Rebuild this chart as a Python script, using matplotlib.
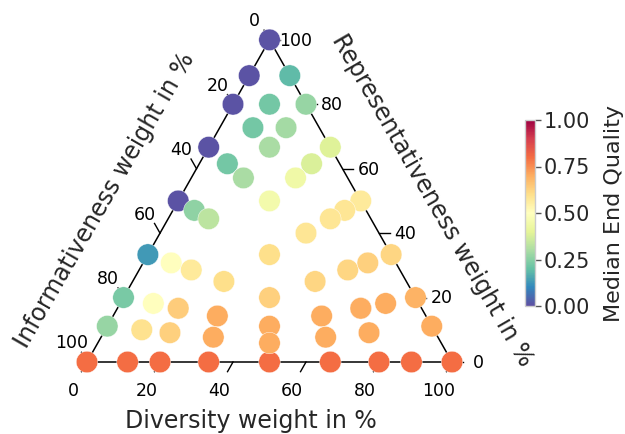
import numpy as np
import matplotlib
matplotlib.use("Agg")
import matplotlib.pyplot as plt
from matplotlib.colors import Normalize
from matplotlib.cm import ScalarMappable

# raw weights (diversity, representativeness, informativeness) and median end quality
w_div = [0, 0, 0, 0, 0, 0, 0, 0, 0,
         1, 1, 1, 1, 2, 4, 8, 1,
         1, 1, 1, 1, 2, 4, 8,
         1, 1, 2, 1, 1, 1, 4, 2, 1, 1, 1, 8, 4, 2, 1, 1, 1, 1, 2, 4, 8,
         1, 1, 2, 1, 2, 4, 4, 8, 1, 2, 4, 4, 8, 4, 8, 8]
w_rep = [1, 8, 4, 2, 1, 1, 1, 1, 0,
         0, 0, 0, 0, 0, 0, 0, 0,
         8, 4, 2, 1, 1, 1, 1,
         8, 8, 8, 4, 8, 4, 8, 4, 2, 8, 4, 8, 4, 2, 1, 4, 2, 1, 1, 2, 4,
         2, 1, 1, 1, 1, 1, 1, 2, 1, 1, 1, 1, 1, 1, 1, 1]
w_inf = [0, 1, 1, 1, 1, 2, 4, 8, 1,
         8, 4, 2, 1, 1, 1, 1, 0,
         0, 0, 0, 0, 0, 0, 0,
         1, 2, 1, 1, 4, 2, 1, 1, 1, 8, 4, 1, 1, 1, 1, 8, 4, 2, 1, 1, 1,
         8, 4, 2, 4, 4, 2, 1, 1, 8, 8, 8, 4, 8, 1, 4, 2]
quality = [0.01, 0.01, 0.01, 0.01, 0.01, 0.13, 0.23, 0.27, 0.80,
           0.80, 0.80, 0.80, 0.80, 0.80, 0.80, 0.80, 0.80,
           0.19, 0.27, 0.39, 0.57, 0.62, 0.69, 0.70,
           0.22, 0.22, 0.29, 0.30, 0.22, 0.30, 0.38, 0.44, 0.45, 0.26, 0.33,
           0.58, 0.58, 0.58, 0.60, 0.50, 0.57, 0.60, 0.62, 0.62, 0.63,
           0.50, 0.58, 0.63, 0.64, 0.70, 0.70, 0.70, 0.70,
           0.59, 0.63, 0.70, 0.70, 0.70, 0.70, 0.70, 0.70]

tick_values = [0, 20, 40, 60, 80, 100]
cbar_ticks = [0.0, 0.25, 0.5, 0.75, 1.0]

S3 = np.sqrt(3) / 2


def proj(d, r):
    # ternary (diversity %, representativeness %) -> cartesian
    return d + r / 2.0, r * S3


fig = plt.figure(figsize=(6.25, 4.34), dpi=100)
ax = fig.add_axes([0, 0, 1, 1])
ax.set_xlim(-87 / 3.65, (625 - 87) / 3.65)
ax.set_ylim(-72 / 3.72, (434 - 72) / 3.72)
ax.axis("off")

# triangle boundary
bx, by = proj(np.array([0, 100, 0, 0]), np.array([0, 0, 100, 0]))
ax.plot(bx, by, color="black", lw=1.1, zorder=1)

# points
tot = np.array(w_div) + np.array(w_rep) + np.array(w_inf)
pd_ = 100.0 * np.array(w_div) / tot
pr_ = 100.0 * np.array(w_rep) / tot
px, py = proj(pd_, pr_)
cmap = plt.get_cmap("Spectral_r")
norm = Normalize(0, 1)
ax.scatter(px, py, c=quality, cmap=cmap, norm=norm, s=240,
           edgecolors="white", linewidths=0.3, zorder=3)

# ticks
off = 3.0
for i in tick_values:
    # bottom axis
    x1, y1 = proj(i, 0)
    x2, y2 = proj(i, -off)
    ax.plot([x1, x2], [y1, y2], color="black", lw=1, zorder=2)
    tx, ty = proj(i + 0.5 * off, -3.5 * off)
    ax.text(tx, ty, str(i), ha="center", fontsize=12.5)
    # right axis
    x1, y1 = proj(100 - i, i)
    x2, y2 = proj(100 - i + off, i)
    ax.plot([x1, x2], [y1, y2], color="black", lw=1, zorder=2)
    tx, ty = proj(100 - i + 2.7 * off, i - 0.6 * off)
    ax.text(tx, ty, str(i), ha="center", fontsize=12.5)
    # left axis
    x1, y1 = proj(0, i)
    x2, y2 = proj(-off, i + off)
    ax.plot([x1, x2], [y1, y2], color="black", lw=1, zorder=2)
    tx, ty = proj(-2.1 * off, i + 1.4 * off)
    ax.text(tx, ty, str(100 - i), ha="center", fontsize=12.5)

lab_color = "#262626"
ax.text(44.9, -15.9, "Diversity weight in %", ha="center", va="center",
        fontsize=17, color=lab_color)
ax.text(5.0, 43.5, "Informativeness weight in %", ha="center", va="center",
        rotation=60, fontsize=17, color=lab_color)
ax.text(94.5, 43.5, "Representativeness weight in %", ha="center", va="center",
        rotation=-60, fontsize=17, color=lab_color)

# colorbar
cax = fig.add_axes([525 / 625, (434 - 306) / 434, 10 / 625, 186 / 434])
sm = ScalarMappable(norm=norm, cmap=cmap)
cb = fig.colorbar(sm, cax=cax, ticks=cbar_ticks, format="%.2f")
cb.outline.set_edgecolor("#cccccc")
cb.outline.set_linewidth(1)
cax.tick_params(length=4, width=1, color="#555555", labelsize=15,
                labelcolor=lab_color, pad=2)
cb.set_label("Median End Quality", fontsize=16, color=lab_color, labelpad=10)

fig.savefig("out.png", dpi=100)
